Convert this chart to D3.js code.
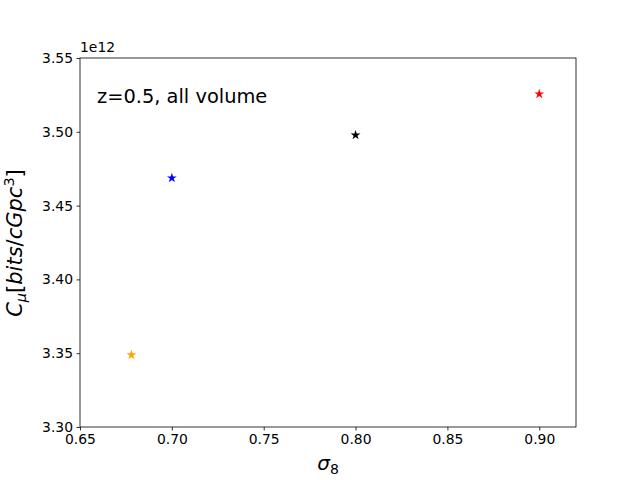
<!DOCTYPE html>
<html><head><meta charset="utf-8">
<script src="https://cdn.jsdelivr.net/npm/d3@7"></script>
<style>body{margin:0;background:#fff}svg{display:block}text{font-family:"DejaVu Sans",sans-serif}</style>
</head><body>
<svg id="c" width="640" height="480"></svg>
<script>
const sigma8 = [0.678, 0.70, 0.80, 0.90];
const cmu = [3.3488e12, 3.4687e12, 3.4978e12, 3.5256e12];
const colors = ["orange", "blue", "black", "red"];
const xTicks = [0.65, 0.70, 0.75, 0.80, 0.85, 0.90];
const yTicks = [3.30, 3.35, 3.40, 3.45, 3.50, 3.55];
const annotation = "z=0.5, all volume";

const svg = d3.select("#c");
const L = 80, R = 576, T = 58, B = 427;
const x = d3.scaleLinear().domain([0.65, 0.92]).range([L, R]);
const y = d3.scaleLinear().domain([3.30, 3.55]).range([B, T]);

const xAxis = d3.axisBottom(x).tickValues(xTicks).tickFormat(d3.format(".2f")).tickSizeOuter(0).tickSize(3.5).tickPadding(3.5);
const yAxis = d3.axisLeft(y).tickValues(yTicks).tickFormat(d3.format(".2f")).tickSizeOuter(0).tickSize(3.5).tickPadding(3.5);

const gx = svg.append("g").attr("transform", `translate(0,${B})`).call(xAxis);
const gy = svg.append("g").attr("transform", `translate(${L},0)`).call(yAxis);
[gx, gy].forEach(g => {
  g.select(".domain").remove();
  g.selectAll("text").attr("font-size", 13.9).attr("fill", "#000").style("font-family", "DejaVu Sans");
  g.selectAll("line").attr("stroke", "#000").attr("stroke-width", 0.8);
});

svg.append("rect").attr("x", L).attr("y", T).attr("width", R - L).attr("height", B - T)
  .attr("fill", "none").attr("stroke", "#000").attr("stroke-width", 0.8);

svg.append("text").attr("x", L).attr("y", T - 6).attr("font-size", 13.9).text("1e12");

const star = d3.symbol().type(d3.symbolStar).size(30);
svg.append("g").selectAll("path").data(sigma8).join("path")
  .attr("d", star)
  .attr("transform", (d, i) => `translate(${x(d)},${y(cmu[i] / 1e12)})`)
  .attr("fill", (d, i) => colors[i]);

svg.append("text").attr("x", 97).attr("y", 103).attr("font-size", 19.4).text(annotation);

// x label: sigma_8
const xl = svg.append("text").attr("x", 328).attr("y", 470).attr("text-anchor", "middle").attr("font-size", 20);
xl.append("tspan").attr("font-style", "italic").text("σ");
xl.append("tspan").attr("font-size", 14).attr("dy", 4).text("8");

// y label
const yl = svg.append("text").attr("transform", "translate(22,243) rotate(-90)").attr("text-anchor", "middle").attr("font-size", 21);
yl.append("tspan").attr("font-style", "italic").text("C");
yl.append("tspan").attr("font-style", "italic").attr("font-size", 14.5).attr("dy", 4).text("μ");
yl.append("tspan").attr("dy", -4).text("[");
yl.append("tspan").attr("font-style", "italic").text("bits");
yl.append("tspan").text("/");
yl.append("tspan").attr("font-style", "italic").text("cGpc");
yl.append("tspan").attr("font-size", 14.5).attr("dy", -8).text("3");
yl.append("tspan").attr("dy", 8).text("]");
</script>
</body></html>
